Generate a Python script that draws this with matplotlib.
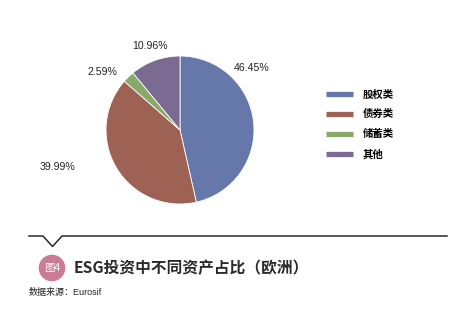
import matplotlib.pyplot as plt
from matplotlib.lines import Line2D
from matplotlib.patches import Circle

plt.rcParams['font.family'] = ['Liberation Sans', 'Noto Sans CJK SC', 'DejaVu Sans']

# data
categories = ['股权类', '债券类', '储蓄类', '其他']
shares = [46.45, 39.99, 2.59, 10.96]
colors = ['#6677a9', '#9e6255', '#89a86a', '#7b6b92']
# label offsets in pie radius units (manual placement, like the original)
label_pos = [(0.97, 0.84), (-1.66, -0.50), (-1.05, 0.78), (-0.41, 1.14)]

W, H = 467, 325
fig = plt.figure(figsize=(W / 100, H / 100), dpi=100)

# pie axes, centre (180,130) px, radius 74 px
cx, cy, r = 180, 130, 74
side = 2.5 * r
ax = fig.add_axes([(cx - side / 2) / W, (H - cy - side / 2) / H, side / W, side / H])
wedges, _ = ax.pie(shares, colors=colors, startangle=90, counterclock=False,
                   wedgeprops=dict(linewidth=0.6, edgecolor='white'))
ax.set_xlim(-1.25, 1.25)
ax.set_ylim(-1.25, 1.25)
ax.set_aspect('equal')
for v, (lx, ly) in zip(shares, label_pos):
    ax.text(lx, ly, f'{v:.2f}%', ha='center', va='center', fontsize=7.6,
            color='#222222', clip_on=False)

# legend
handles = [Line2D([], [], color=c, lw=3.8, solid_capstyle='butt') for c in colors]
fig.legend(handles, categories, loc='upper left', bbox_to_anchor=(317 / W, 1 - 80 / H),
           frameon=False, handlelength=2.6, handletextpad=0.9,
           labelspacing=0.95,
           prop={'family': ['Noto Sans CJK SC'], 'size': 7.5, 'weight': 'bold'})

# decorations in pixel coords
deco = fig.add_axes([0, 0, 1, 1])
deco.set_xlim(0, W)
deco.set_ylim(H, 0)
deco.axis('off')
deco.plot([29, 43, 52.5, 62, 447], [236, 236, 246.5, 236, 236], color='#2a2a2a', lw=1.1)
deco.add_patch(Circle((52, 268), 13.3, color='#c97c94', lw=0))
deco.text(52, 268.5, '图4', ha='center', va='center', fontsize=7.5, color='white',
          family=['Noto Sans CJK SC'])
deco.text(74, 268, 'ESG投资中不同资产占比（欧洲）', ha='left', va='center', fontsize=11.3,
          fontweight='bold', color='#2a2a2a', family=['Noto Sans CJK SC'])
deco.text(29, 292, '数据来源：Eurosif', ha='left', va='center', fontsize=6.5,
          color='#222222', family=['Liberation Sans', 'Noto Sans CJK SC'])

fig.savefig('out.png', dpi=100, facecolor='white')
